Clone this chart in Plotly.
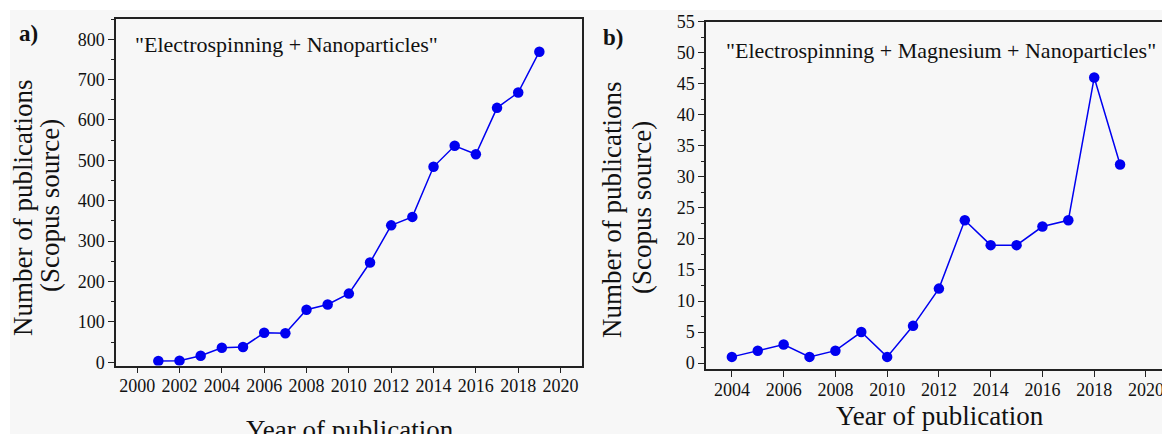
import plotly.graph_objects as go

# Data
years_a = [2001, 2002, 2003, 2004, 2005, 2006, 2007, 2008, 2009, 2010,
           2011, 2012, 2013, 2014, 2015, 2016, 2017, 2018, 2019]
pubs_a = [3, 4, 16, 36, 38, 73, 72, 130, 143, 170,
          247, 339, 360, 484, 536, 515, 630, 668, 769]

years_b = [2004, 2005, 2006, 2007, 2008, 2009, 2010, 2011,
           2012, 2013, 2014, 2015, 2016, 2017, 2018, 2019]
pubs_b = [1, 2, 3, 1, 2, 5, 1, 6, 12, 23, 19, 19, 22, 23, 46, 32]

label_a = '"Electrospinning + Nanoparticles"'
label_b = '"Electrospinning + Magnesium + Nanoparticles"'
ytitle_1 = "Number of publications"
ytitle_2 = "(Scopus source)"
xtitle = "Year of publication"

W, H = 1162, 434
FONT = "Liberation Serif"
BLUE = "#0000f0"


def px(x):
    return x / W


def py(y):
    return 1 - y / H


fig = go.Figure()
fig.add_trace(go.Scatter(x=years_a, y=pubs_a, mode="lines+markers",
                         line=dict(color=BLUE, width=1.5),
                         marker=dict(color=BLUE, size=10.5),
                         xaxis="x", yaxis="y", showlegend=False))
fig.add_trace(go.Scatter(x=years_b, y=pubs_b, mode="lines+markers",
                         line=dict(color=BLUE, width=1.5),
                         marker=dict(color=BLUE, size=10.5),
                         xaxis="x2", yaxis="y2", showlegend=False))

axis_common = dict(showline=True, linecolor="#222", linewidth=1.5,
                   ticks="outside", ticklen=6, tickwidth=1.2, tickcolor="#222",
                   showgrid=False, zeroline=False, automargin=False,
                   tickfont=dict(family=FONT, size=18, color="#111"))

fig.update_layout(
    width=W, height=H,
    margin=dict(l=0, r=0, t=0, b=0, pad=0, autoexpand=False),
    paper_bgcolor="white",
    plot_bgcolor="rgba(0,0,0,0)",
    xaxis=dict(domain=[px(116), px(581.7)], range=[1999, 2021],
               tick0=2000, dtick=2, mirror=True, anchor="y",
               ticklabelstandoff=-3, **axis_common),
    yaxis=dict(domain=[py(365.5), py(19)], range=[-8, 850],
               tick0=0, dtick=100, mirror=True, anchor="x",
               minor=dict(dtick=50, ticks="outside", ticklen=3.5, tickcolor="#222"),
               **axis_common),
    xaxis2=dict(domain=[px(706), 1.0], range=[2003, 2020.62],
                tick0=2004, dtick=2, mirror=True, anchor="y2",
                ticklabelstandoff=-3, ticklabeloverflow="allow", **axis_common),
    yaxis2=dict(domain=[py(369.3), py(21.7)], range=[-1, 55],
                tick0=0, dtick=5, mirror=False, anchor="x2",
                minor=dict(dtick=2.5, ticks="outside", ticklen=3.5, tickcolor="#222"),
                **axis_common),
    shapes=[dict(type="rect", xref="paper", yref="paper",
                 x0=px(10), x1=1.0, y0=0, y1=py(10),
                 fillcolor="#f7f7f7", line=dict(width=0), layer="below")],
)

ann = []


def add_text(text, x, y, size, bold=False, angle=0):
    t = f"<b>{text}</b>" if bold else text
    ann.append(dict(text=t, x=px(x), y=py(y), xref="paper", yref="paper",
                    xanchor="center", yanchor="middle", showarrow=False,
                    textangle=angle,
                    font=dict(family=FONT, size=size, color="#111")))


add_text("a)", 28, 33, 23, bold=True)
add_text("b)", 613, 38, 23, bold=True)
add_text(label_a, 286, 45, 22)
add_text(label_b, 941, 50, 22)
add_text(ytitle_1, 23, 208, 27, angle=-90)
add_text(ytitle_2, 50, 206, 27, angle=-90)
add_text(ytitle_1, 612, 210, 27, angle=-90)
add_text(ytitle_2, 642, 208, 27, angle=-90)
add_text(xtitle, 350, 430, 27)
add_text(xtitle, 940, 416, 27)

fig.update_layout(annotations=ann)

fig.write_html("out.html",
               config={"displayModeBar": False},
               post_script="document.body.style.margin='0';"
                           "document.body.style.overflow='hidden';")
